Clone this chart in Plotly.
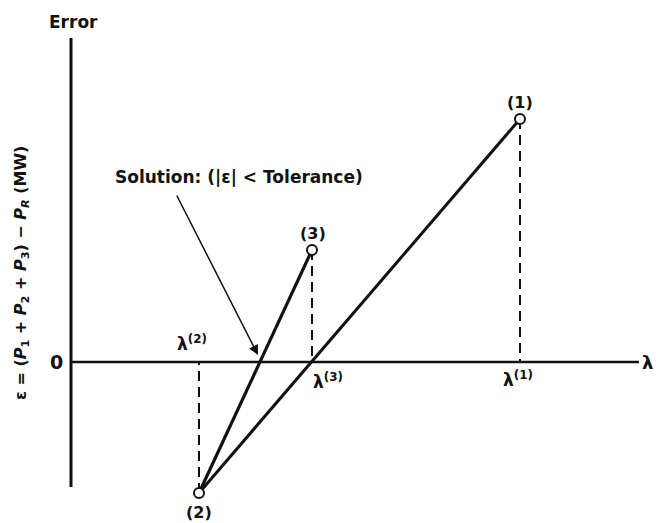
import plotly.graph_objects as go

# Secant iterations on lambda: iterate index, lambda value, error value
labels = ["(1)", "(2)", "(3)"]
lam = [4.49, 1.28, 2.41]
err = [2.43, -1.31, 1.12]
lam_tick_labels = ["λ<sup>(1)</sup>", "λ<sup>(2)</sup>", "λ<sup>(3)</sup>"]

FONT = "DejaVu Sans, Verdana, sans-serif"
INK = "#111111"


def font(size):
    return dict(family=FONT, size=size, color=INK)


fig = go.Figure()

# dashed drops from each iterate to the lambda axis
for x, y in zip(lam, err):
    fig.add_trace(go.Scatter(
        x=[x, x], y=[y, 0], mode="lines",
        line=dict(color=INK, width=2, dash="10px,6px"),
        hoverinfo="skip", showlegend=False,
    ))

# secant lines through (2)-(1) and (2)-(3)
fig.add_trace(go.Scatter(
    x=[lam[1], lam[0]], y=[err[1], err[0]], mode="lines",
    line=dict(color=INK, width=3), showlegend=False,
))
fig.add_trace(go.Scatter(
    x=[lam[1], lam[2]], y=[err[1], err[2]], mode="lines",
    line=dict(color=INK, width=3.2), showlegend=False,
))

# open circles at the iterates
fig.add_trace(go.Scatter(
    x=lam, y=err, mode="markers",
    marker=dict(symbol="circle", size=10, color="white",
                line=dict(color=INK, width=2)),
    showlegend=False,
))

# axes drawn as plain lines
fig.add_shape(type="line", x0=0, x1=0, y0=-1.25, y1=3.24,
              line=dict(color=INK, width=3))
fig.add_shape(type="line", x0=0, x1=5.68, y0=0, y1=0,
              line=dict(color=INK, width=2.5))

# iterate labels
label_offsets = [(0.0, 0.17), (0.0, -0.19), (0.01, 0.17)]
for lab, x, y, (dx, dy) in zip(labels, lam, err, label_offsets):
    fig.add_annotation(x=x + dx, y=y + dy, text=f"<b>{lab}</b>",
                       showarrow=False, font=font(16))

# lambda labels along the axis
lam_label_pos = [(lam[0] - 0.02, -0.17), (lam[1] - 0.07, 0.19), (lam[2] + 0.16, -0.19)]
for t, (x, y) in zip(lam_tick_labels, lam_label_pos):
    fig.add_annotation(x=x, y=y, text=f"<b>{t}</b>", showarrow=False, font=font(17))

fig.add_annotation(x=5.76, y=0.0, text="<b>λ</b>", showarrow=False, font=font(18))
fig.add_annotation(x=-0.15, y=0.0, text="<b>0</b>", showarrow=False, font=font(19))
fig.add_annotation(x=0.02, y=3.40, text="<b>Error</b>", showarrow=False, font=font(17))

# vertical axis title
fig.add_annotation(
    x=-0.50, y=0.89, textangle=-90, showarrow=False, font=font(16),
    text="<b>ε = (<i>P</i><sub>1</sub> + <i>P</i><sub>2</sub> + <i>P</i><sub>3</sub>)"
         " − <i>P<sub>R</sub></i> (MW)</b>",
)

# solution pointer
fig.add_annotation(
    x=1.87, y=0.07, ax=1.05, ay=1.68, axref="x", ayref="y",
    showarrow=True, arrowhead=2, arrowsize=1.3, arrowwidth=1.5,
    arrowcolor=INK, text="",
)
fig.add_annotation(x=1.68, y=1.85, text="<b>Solution: (|ε| &lt; Tolerance)</b>",
                   showarrow=False, font=font(17))

fig.update_xaxes(range=[-0.71, 5.85], visible=False, fixedrange=True)
fig.update_yaxes(range=[-1.61, 3.62], visible=False, fixedrange=True)
fig.update_layout(
    width=656, height=523,
    margin=dict(l=0, r=0, t=0, b=0),
    paper_bgcolor="white", plot_bgcolor="white",
    showlegend=False,
)

fig.write_html("out.html")
